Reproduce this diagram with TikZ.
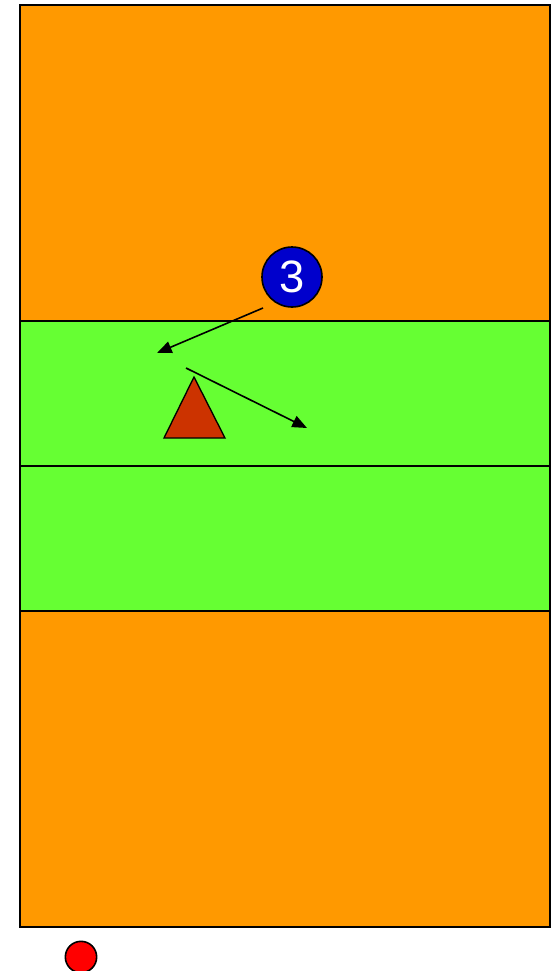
\documentclass[tikz,border=0pt]{standalone}
\usepackage{fontspec}
\setmainfont{Liberation Sans}
\usetikzlibrary{arrows.meta}
\definecolor{courtorange}{HTML}{FF9900}
\definecolor{courtgreen}{HTML}{66FF33}
\definecolor{conered}{HTML}{CC3300}
\definecolor{playerblue}{HTML}{0000CC}
\definecolor{ballred}{HTML}{FF0000}
\tikzset{
  zone/.style={draw=black, line width=1.5pt},
  move/.style={draw=black, line width=1.2pt, -{Triangle[length=11pt,width=9pt]}},
  player/.style={circle, draw=black, line width=1.2pt, fill=playerblue, minimum size=45pt, inner sep=0pt, text=white, font=\fontsize{34}{34}\selectfont},
  cone/.style={draw=black, line width=1pt, fill=conered},
  ball/.style={circle, draw=black, line width=1.2pt, fill=ballred, minimum size=23.5pt, inner sep=0pt}
}
\begin{document}
\begin{tikzpicture}[x=0.75pt,y=-0.75pt]
\useasboundingbox (0,0) rectangle (556,971);
\fill[white] (0,0) rectangle (556,971);
% court zones
\filldraw[zone, fill=courtorange] (20,5) rectangle (550,321);
\filldraw[zone, fill=courtgreen] (20,321) rectangle (550,466);
\filldraw[zone, fill=courtgreen] (20,466) rectangle (550,611);
\filldraw[zone, fill=courtorange] (20,611) rectangle (550,927);
% cone
\filldraw[cone] (194,377) -- (225,438) -- (164,438) -- cycle;
% player
\node[player] (p3) at (292,277) {3};
% movement arrows
\coordinate (a1s) at (263,308);
\coordinate (a1e) at (157,353);
\coordinate (a2s) at (186,368);
\coordinate (a2e) at (307,428);
\draw[move] (a1s) -- (a1e);
\draw[move] (a2s) -- (a2e);
% ball
\node[ball] (ball) at (81,957) {};
\end{tikzpicture}
\end{document}
